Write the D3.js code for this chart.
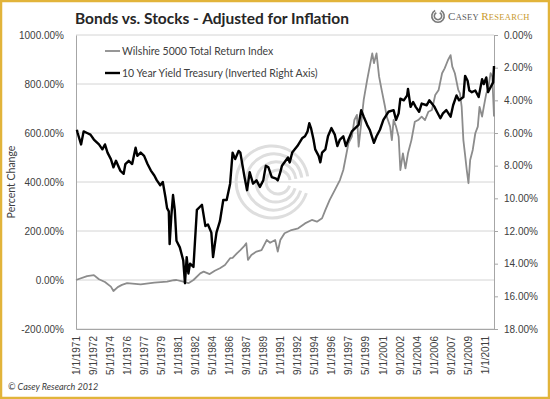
<!DOCTYPE html>
<html>
<head>
<meta charset="utf-8">
<script src="https://cdn.jsdelivr.net/npm/d3@7"></script>
<style>
    body { margin: 0; background: #fff; }
    svg { display: block; font-family: Lato, "Open Sans", sans-serif; }
    .axis text { fill: #404040; font-size: 10px; }
    .axis path, .axis line { stroke: #a6a6a6; }
</style>
</head>
<body>
<div class="chart"></div>
<script>

// Wilshire 5000 total return, % change (left axis)
var wilshire = [
    ["1971-01", 0], ["1972-02", 16], ["1972-10", 20], ["1973-04", 3], ["1973-11", -8],
    ["1974-06", -27], ["1974-09", -45], ["1975-02", -29], ["1975-07", -20], ["1976-01", -13],
    ["1977-05", -18], ["1978-09", -11], ["1979-12", -7], ["1980-08", -1], ["1980-11", 0],
    ["1981-07", -7], ["1982-01", -13], ["1982-07", 0], ["1983-03", 27], ["1983-07", 34],
    ["1984-02", 24], ["1984-08", 38], ["1985-02", 48], ["1985-08", 61], ["1986-02", 89],
    ["1986-05", 90], ["1986-10", 109], ["1987-02", 122], ["1987-06", 136], ["1987-09", 150],
    ["1987-11", 82], ["1988-03", 102], ["1988-09", 116], ["1989-03", 122], ["1989-09", 163],
    ["1990-01", 152], ["1990-07", 163], ["1990-10", 116], ["1991-01", 163], ["1991-06", 191],
    ["1992-02", 204], ["1992-10", 211], ["1993-06", 231], ["1994-02", 245], ["1994-08", 238],
    ["1995-02", 252], ["1995-06", 286], ["1995-11", 327], ["1996-05", 367], ["1996-11", 408],
    ["1997-03", 449], ["1997-06", 503], ["1997-09", 558], ["1998-01", 585], ["1998-04", 653],
    ["1998-07", 674], ["1998-09", 544], ["1998-12", 640], ["1999-03", 735], ["1999-07", 816],
    ["1999-10", 871], ["2000-01", 925], ["2000-03", 885], ["2000-06", 925], ["2000-09", 830],
    ["2000-12", 776], ["2001-04", 707], ["2001-06", 667], ["2001-10", 626], ["2001-12", 571],
    ["2002-02", 653], ["2002-05", 626], ["2002-08", 585], ["2002-10", 449], ["2003-01", 517],
    ["2003-04", 456], ["2003-07", 517], ["2003-11", 571], ["2004-03", 646], ["2004-07", 653],
    ["2004-11", 667], ["2005-03", 653], ["2005-07", 687], ["2005-11", 694], ["2006-03", 755],
    ["2006-07", 776], ["2006-11", 844], ["2007-02", 864], ["2007-06", 898], ["2007-09", 918],
    ["2007-11", 871], ["2008-02", 844], ["2008-06", 776], ["2008-08", 762], ["2008-10", 707],
    ["2008-12", 571], ["2009-02", 510], ["2009-04", 449], ["2009-06", 395], ["2009-08", 490],
    ["2009-11", 531], ["2010-02", 599], ["2010-05", 626], ["2010-07", 707], ["2010-10", 667],
    ["2010-12", 707], ["2011-03", 762], ["2011-05", 776], ["2011-08", 844], ["2011-10", 830],
    ["2011-12", 667]
];

// 10 year treasury yield, % (inverted right axis)
var treasury = [
    ["1971-02", 5.8], ["1971-03", 6.0], ["1971-07", 6.7], ["1971-10", 5.9], ["1972-02", 6.0],
    ["1972-06", 6.1], ["1972-10", 6.4], ["1973-04", 6.7], ["1973-08", 7.0], ["1973-11", 6.7],
    ["1974-02", 7.2], ["1974-06", 7.6], ["1974-09", 8.1], ["1974-12", 7.7], ["1975-05", 8.3],
    ["1975-09", 8.5], ["1975-11", 7.9], ["1976-03", 7.7], ["1976-07", 7.9], ["1976-11", 6.9],
    ["1977-01", 7.4], ["1977-05", 7.2], ["1977-09", 7.4], ["1978-01", 7.9], ["1978-05", 8.3],
    ["1978-09", 8.6], ["1978-12", 8.9], ["1979-04", 9.2], ["1979-07", 9.0], ["1979-10", 9.9],
    ["1979-12", 10.6], ["1980-02", 10.8], ["1980-03", 12.8], ["1980-05", 11.1], ["1980-07", 9.8],
    ["1980-09", 10.7], ["1980-11", 12.6], ["1981-03", 13.0], ["1981-07", 13.8], ["1981-09", 15.2],
    ["1981-11", 13.6], ["1982-01", 14.6], ["1982-03", 14.0], ["1982-07", 14.2], ["1982-11", 10.7],
    ["1983-03", 10.5], ["1983-05", 10.4], ["1983-09", 11.7], ["1983-12", 11.6], ["1984-04", 12.1],
    ["1984-06", 13.6], ["1984-10", 12.1], ["1985-02", 11.4], ["1985-06", 10.1], ["1985-10", 10.1],
    ["1986-02", 9.1], ["1986-05", 7.2], ["1986-08", 7.6], ["1986-12", 7.1], ["1987-02", 7.2],
    ["1987-05", 8.1], ["1987-07", 8.7], ["1987-10", 9.5], ["1988-01", 8.4], ["1988-05", 9.1],
    ["1988-09", 8.9], ["1989-01", 9.3], ["1989-05", 8.9], ["1989-08", 8.0], ["1989-11", 8.1],
    ["1990-03", 8.7], ["1990-08", 8.8], ["1990-10", 8.9], ["1991-01", 8.4], ["1991-03", 8.0],
    ["1991-10", 7.5], ["1991-12", 7.8], ["1992-03", 7.2], ["1992-09", 6.8], ["1993-03", 6.3],
    ["1993-06", 6.2], ["1993-09", 5.9], ["1993-11", 5.4], ["1994-01", 5.7], ["1994-04", 6.4],
    ["1994-06", 7.0], ["1994-10", 7.4], ["1994-12", 7.8], ["1995-02", 7.2], ["1995-06", 7.0],
    ["1995-09", 6.2], ["1996-01", 5.7], ["1996-05", 6.1], ["1996-08", 6.8], ["1996-11", 6.4],
    ["1997-03", 6.2], ["1997-06", 6.8], ["1997-09", 6.4], ["1998-01", 5.9], ["1998-05", 5.7],
    ["1998-09", 5.5], ["1998-12", 4.6], ["1999-03", 5.0], ["1999-07", 5.5], ["1999-10", 5.8],
    ["2000-03", 6.6], ["2000-06", 6.2], ["2000-10", 5.8], ["2001-02", 5.2], ["2001-08", 4.7],
    ["2002-02", 4.6], ["2002-05", 5.2], ["2002-08", 4.8], ["2002-10", 3.9], ["2003-02", 4.0],
    ["2003-06", 3.7], ["2003-07", 3.3], ["2003-10", 4.4], ["2004-01", 4.1], ["2004-04", 4.4],
    ["2004-08", 4.7], ["2004-11", 4.2], ["2005-05", 4.3], ["2005-08", 4.0], ["2006-02", 4.4],
    ["2006-05", 4.7], ["2006-09", 5.1], ["2006-12", 4.8], ["2007-04", 4.6], ["2007-09", 5.0],
    ["2007-12", 4.3], ["2008-04", 3.7], ["2008-07", 4.0], ["2008-12", 3.8], ["2009-02", 2.5],
    ["2009-05", 2.8], ["2009-07", 3.4], ["2009-10", 3.5], ["2010-02", 3.4], ["2010-06", 3.8],
    ["2010-10", 2.7], ["2010-12", 3.0], ["2011-03", 2.6], ["2011-05", 3.5], ["2011-08", 3.2],
    ["2011-11", 2.9], ["2011-12", 1.9]
];

var leftTicks = [-200, 0, 200, 400, 600, 800, 1000];
var rightTicks = [0, 2, 4, 6, 8, 10, 12, 14, 16, 18];
var xTickLabels = ["1/1/1971", "9/1/1972", "5/1/1974", "1/1/1976", "9/1/1977", "5/1/1979",
    "1/1/1981", "9/1/1982", "5/1/1984", "1/1/1986", "9/1/1987", "5/1/1989", "1/1/1991",
    "9/1/1992", "5/1/1994", "1/1/1996", "9/1/1997", "5/1/1999", "1/1/2001", "9/1/2002",
    "5/1/2004", "1/1/2006", "9/1/2007", "5/1/2009", "1/1/2011"];
var seriesNames = ["Wilshire 5000 Total Return Index", "10 Year Yield Treasury (Inverted Right Axis)"];
var seriesColors = ["#8c8c8c", "#000000"];

var W = 550, H = 399;
var margin = { top: 35, right: 56, bottom: 70, left: 76 };
var width = W - margin.left - margin.right,
    height = H - margin.top - margin.bottom;

var parseMonth = d3.timeParse("%Y-%m");
var parseLabel = d3.timeParse("%m/%d/%Y");

var svg = d3.select(".chart").append("svg")
    .attr("width", W)
    .attr("height", H);

// gold frame
svg.append("rect")
    .attr("x", 1).attr("y", 1)
    .attr("width", W - 2).attr("height", H - 2)
    .attr("fill", "none")
    .attr("stroke", "#e2b43a")
    .attr("stroke-width", 2.5);

var g = svg.append("g")
    .attr("transform", "translate(" + margin.left + "," + margin.top + ")");

// Scales
var x = d3.scaleTime()
    .domain([parseMonth("1971-01"), parseMonth("2011-12")])
    .range([0, width]);

var yLeft = d3.scaleLinear()
    .domain([-200, 1000])
    .range([height, 0]);

var yRight = d3.scaleLinear()
    .domain([0, 18])
    .range([0, height]);

// gridlines
g.selectAll(".grid")
    .data(leftTicks)
    .enter().append("line")
    .attr("class", "grid")
    .attr("x1", 0).attr("x2", width)
    .attr("y1", function(d) { return yLeft(d); })
    .attr("y2", function(d) { return yLeft(d); })
    .attr("stroke", "#d4d4d4")
    .attr("stroke-width", 1);

// watermark swirl
var wm = g.append("g")
    .attr("transform", "translate(" + (x(parseMonth("1990-01")) + 2) + "," + (yLeft(400) + 0) + ")")
    .attr("fill", "none")
    .attr("stroke", "#dedede")
    .attr("stroke-width", 3);
[36, 28, 20, 12].forEach(function(r, i) {
    wm.append("path")
        .attr("transform", "translate(" + (i * 2) + ",0)")
        .attr("d", d3.arc()({ innerRadius: r, outerRadius: r, startAngle: Math.PI * 0.6, endAngle: Math.PI * 2.45 }));
});

// Axes
var xAxis = d3.axisBottom(x)
    .tickValues(xTickLabels.map(function(d) { return parseLabel(d); }))
    .tickFormat(d3.timeFormat("%-m/%-d/%Y"))
    .tickSize(0);

g.append("g")
    .attr("class", "x-axis axis")
    .attr("transform", "translate(0," + height + ")")
    .call(xAxis)
    .selectAll("text")
    .attr("transform", "rotate(-90)")
    .attr("text-anchor", "end")
    .attr("x", -7)
    .attr("y", 0)
    .attr("dy", "0.35em");

g.append("g")
    .attr("class", "y-axis axis")
    .call(d3.axisLeft(yLeft).tickValues(leftTicks).tickSize(0).tickPadding(12)
        .tickFormat(function(d) { return d.toFixed(2) + "%"; }))
    .select(".domain").attr("stroke", "#a6a6a6");

g.append("g")
    .attr("class", "y-axis2 axis")
    .attr("transform", "translate(" + width + ",0)")
    .call(d3.axisRight(yRight).tickValues(rightTicks).tickSizeOuter(0).tickSize(4).tickPadding(6)
        .tickFormat(function(d) { return d.toFixed(2) + "%"; }));

// lines
var wilshireLine = d3.line()
    .x(function(d) { return x(parseMonth(d[0])); })
    .y(function(d) { return yLeft(d[1]); });

var treasuryLine = d3.line()
    .x(function(d) { return x(parseMonth(d[0])); })
    .y(function(d) { return yRight(d[1]); });

g.append("path")
    .datum(wilshire)
    .attr("fill", "none")
    .attr("stroke", seriesColors[0])
    .attr("stroke-width", 1.8)
    .attr("stroke-linejoin", "round")
    .attr("d", wilshireLine);

g.append("path")
    .datum(treasury)
    .attr("fill", "none")
    .attr("stroke", seriesColors[1])
    .attr("stroke-width", 2.4)
    .attr("stroke-linejoin", "round")
    .attr("d", treasuryLine);

// Legend
var legend = g.selectAll(".legend")
    .data(seriesNames)
    .enter().append("g")
    .attr("class", "legend")
    .attr("transform", function(d, i) { return "translate(29," + (16 + i * 22) + ")"; });

legend.append("line")
    .attr("x1", 0).attr("x2", 15)
    .attr("stroke", function(d, i) { return seriesColors[i]; })
    .attr("stroke-width", function(d, i) { return i ? 2.4 : 1.8; });

legend.append("text")
    .attr("x", 17)
    .attr("dy", "0.35em")
    .attr("font-size", "10.5px")
    .attr("fill", "#404040")
    .text(function(d) { return d; });

// titles
svg.append("text")
    .attr("x", 75).attr("y", 24)
    .attr("font-size", "15.5px")
    .attr("font-weight", "bold")
    .attr("fill", "#262626")
    .text("Bonds vs. Stocks - Adjusted for Inflation");

svg.append("text")
    .attr("transform", "translate(15," + (margin.top + height / 2) + ") rotate(-90)")
    .attr("text-anchor", "middle")
    .attr("font-size", "10.5px")
    .attr("fill", "#404040")
    .text("Percent Change");

svg.append("text")
    .attr("x", 8).attr("y", 390)
    .attr("font-size", "9px")
    .attr("font-style", "italic")
    .attr("fill", "#404040")
    .text("\u00a9 Casey Research 2012");

// logo
var logo = svg.append("g").attr("transform", "translate(438,16)");
[7, 4.5].forEach(function(r) {
    logo.append("path")
        .attr("d", d3.arc()({ innerRadius: r - 1.6, outerRadius: r, startAngle: Math.PI * 0.15, endAngle: Math.PI * 1.85 }))
        .attr("fill", "#7a7a7a");
});
var logoText = logo.append("text")
    .attr("x", 10).attr("y", 4)
    .attr("font-family", "'Liberation Serif', 'DejaVu Serif', serif")
    .attr("letter-spacing", "0.3px");
logoText.append("tspan").attr("fill", "#5a5a5a").attr("font-size", "11px").text("C");
logoText.append("tspan").attr("fill", "#5a5a5a").attr("font-size", "8.5px").text("ASEY ");
logoText.append("tspan").attr("fill", "#c99a2e").attr("font-size", "11px").text("R");
logoText.append("tspan").attr("fill", "#c99a2e").attr("font-size", "8.5px").text("ESEARCH");

</script>
</body>
</html>
